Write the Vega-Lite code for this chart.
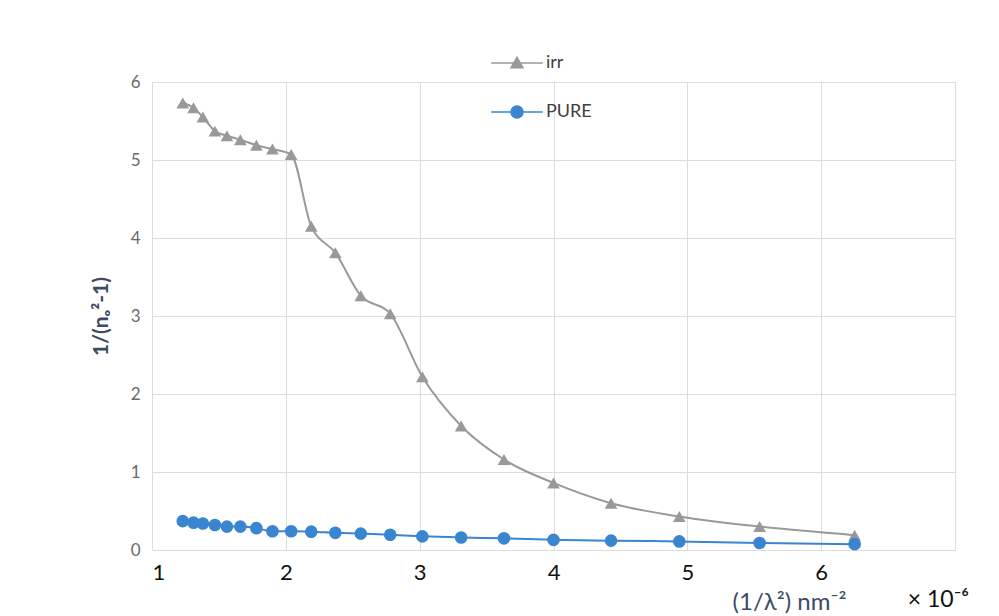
{
  "$schema": "https://vega.github.io/schema/vega-lite/v6.json",
  "autosize": "none",
  "width": 803,
  "height": 468,
  "padding": {"left": 152, "top": 82, "right": 44, "bottom": 66},
  "background": "white",
  "title": {
    "text": "× 10⁻⁶",
    "orient": "bottom",
    "anchor": "end",
    "font": "Lato",
    "fontSize": 23,
    "fontWeight": "normal",
    "color": "#111111",
    "dx": 14,
    "dy": -29
  },
  "config": {
    "view": {"stroke": null},
    "font": "Lato"
  },
  "data": {
    "values": [
      {"x": 1.23, "y": 5.73, "series": "irr"},
      {"x": 1.31, "y": 5.67, "series": "irr"},
      {"x": 1.38, "y": 5.55, "series": "irr"},
      {"x": 1.47, "y": 5.37, "series": "irr"},
      {"x": 1.56, "y": 5.31, "series": "irr"},
      {"x": 1.66, "y": 5.26, "series": "irr"},
      {"x": 1.78, "y": 5.19, "series": "irr"},
      {"x": 1.90, "y": 5.14, "series": "irr"},
      {"x": 2.04, "y": 5.07, "series": "irr"},
      {"x": 2.19, "y": 4.15, "series": "irr"},
      {"x": 2.37, "y": 3.81, "series": "irr"},
      {"x": 2.56, "y": 3.26, "series": "irr"},
      {"x": 2.78, "y": 3.03, "series": "irr"},
      {"x": 3.02, "y": 2.22, "series": "irr"},
      {"x": 3.31, "y": 1.59, "series": "irr"},
      {"x": 3.63, "y": 1.16, "series": "irr"},
      {"x": 4.00, "y": 0.86, "series": "irr"},
      {"x": 4.43, "y": 0.60, "series": "irr"},
      {"x": 4.94, "y": 0.43, "series": "irr"},
      {"x": 5.54, "y": 0.30, "series": "irr"},
      {"x": 6.25, "y": 0.19, "series": "irr"},
      {"x": 1.23, "y": 0.37, "series": "PURE"},
      {"x": 1.31, "y": 0.35, "series": "PURE"},
      {"x": 1.38, "y": 0.34, "series": "PURE"},
      {"x": 1.47, "y": 0.32, "series": "PURE"},
      {"x": 1.56, "y": 0.30, "series": "PURE"},
      {"x": 1.66, "y": 0.30, "series": "PURE"},
      {"x": 1.78, "y": 0.28, "series": "PURE"},
      {"x": 1.90, "y": 0.24, "series": "PURE"},
      {"x": 2.04, "y": 0.24, "series": "PURE"},
      {"x": 2.19, "y": 0.235, "series": "PURE"},
      {"x": 2.37, "y": 0.22, "series": "PURE"},
      {"x": 2.56, "y": 0.21, "series": "PURE"},
      {"x": 2.78, "y": 0.195, "series": "PURE"},
      {"x": 3.02, "y": 0.175, "series": "PURE"},
      {"x": 3.31, "y": 0.16, "series": "PURE"},
      {"x": 3.63, "y": 0.15, "series": "PURE"},
      {"x": 4.00, "y": 0.13, "series": "PURE"},
      {"x": 4.43, "y": 0.12, "series": "PURE"},
      {"x": 4.94, "y": 0.11, "series": "PURE"},
      {"x": 5.54, "y": 0.09, "series": "PURE"},
      {"x": 6.25, "y": 0.075, "series": "PURE"}
    ]
  },
  "encoding": {
    "x": {
      "field": "x",
      "type": "quantitative",
      "scale": {"domain": [1, 7], "nice": false, "zero": false},
      "axis": {
        "values": [1, 2, 3, 4, 5, 6, 7],
        "labelExpr": "datum.value === 7 ? '' : datum.label",
        "title": "(1/λ²) nm⁻²",
        "titleFont": "Lato",
        "titleFontSize": 24,
        "titleFontWeight": "normal",
        "titleColor": "#3e4b66",
        "titleX": 637,
        "titleY": 59,
        "titleAlign": "center",
        "titleBaseline": "alphabetic",
        "labelFont": "Lato",
        "labelFontSize": 22,
        "labelColor": "#111111",
        "labelPadding": 12,
        "grid": true,
        "gridColor": "#dcdcdc",
        "gridWidth": 1,
        "domain": false,
        "ticks": false
      }
    },
    "y": {
      "field": "y",
      "type": "quantitative",
      "scale": {"domain": [0, 6], "nice": false},
      "axis": {
        "values": [0, 1, 2, 3, 4, 5, 6],
        "title": "1/(nₒ²-1)",
        "titleFont": "Lato",
        "titleFontSize": 21,
        "titleFontWeight": "bold",
        "titleColor": "#3e4b66",
        "titlePadding": 19,
        "labelFont": "Lato",
        "labelFontSize": 17,
        "labelColor": "#6a6a6a",
        "labelPadding": 12,
        "grid": true,
        "gridColor": "#dcdcdc",
        "gridWidth": 1,
        "domain": false,
        "ticks": false
      }
    },
    "color": {
      "field": "series",
      "type": "nominal",
      "scale": {"domain": ["irr", "PURE"], "range": ["#999999", "#3a85cf"]},
      "legend": {
        "title": null,
        "orient": "none",
        "legendX": 356,
        "legendY": -28,
        "padding": 0,
        "symbolSize": 144,
        "symbolType": {"expr": "datum.value === 'irr' ? 'M-4.3,0H4.3M0,-0.95L1,0.8L-1,0.8Z' : 'M-4.3,0H4.3M-1,0A1,1 0 1,0 1,0A1,1 0 1,0 -1,0Z'"},
        "symbolStrokeColor": {"expr": "datum.value === 'irr' ? '#999999' : '#3a85cf'"},
        "symbolStrokeWidth": 1.5,
        "labelOffset": 20,
        "rowPadding": 31,
        "labelFont": "Lato",
        "labelFontSize": 18,
        "labelColor": "#404040"
      }
    }
  },
  "layer": [
    {
      "mark": {"type": "line", "interpolate": "monotone", "strokeWidth": 2},
      "encoding": {}
    },
    {
      "mark": {"type": "point", "filled": true, "size": 160, "opacity": 1},
      "encoding": {
        "shape": {
          "condition": {"test": "datum.series === 'irr'", "value": "triangle-up"},
          "value": "circle"
        }
      }
    }
  ]
}
